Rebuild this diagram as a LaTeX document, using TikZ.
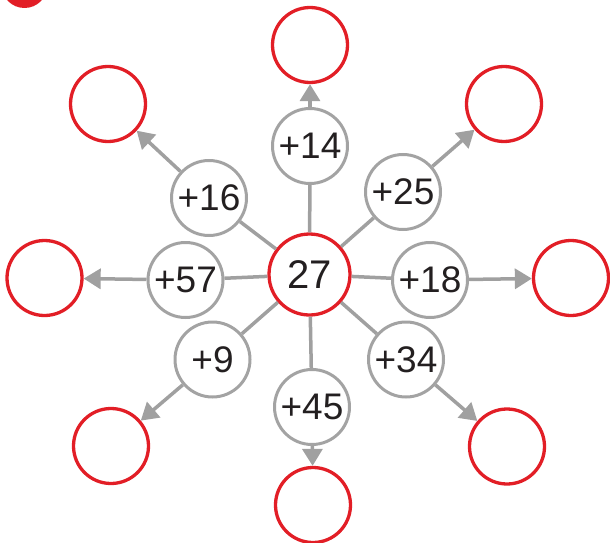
\documentclass[tikz,border=0pt]{standalone}
\usepackage{fontspec}
\setmainfont{Liberation Sans}
\usetikzlibrary{arrows.meta}
\definecolor{ringred}{RGB}{226,30,38}
\definecolor{linegray}{RGB}{160,160,160}
\definecolor{ringgray}{RGB}{163,163,163}
\definecolor{digit}{RGB}{35,31,32}

\begin{document}
\begin{tikzpicture}[x=1pt,y=-1pt,
        start/.style={circle,draw=ringred,line width=3.3pt,minimum size=81pt,
                      inner sep=0pt,text=digit,font=\fontsize{40}{42}\selectfont},
        sum/.style={circle,draw=ringgray,line width=3pt,minimum size=75pt,
                    inner sep=0pt,text=digit,font=\fontsize{37}{39}\selectfont},
        answer/.style={circle,draw=ringred,line width=3.3pt,minimum size=75pt,inner sep=0pt},
        spoke/.style={draw=linegray,line width=3.5pt},
        outarrow/.style={spoke,-{Triangle[length=17pt,width=20pt]}}]
      \useasboundingbox (0,0) rectangle (610,543);
      % badge in the corner
      \fill[ringred] (24.5,-15) circle (23);
      % middle
      \node[start] (c) at (309.5,274.5) {27};
      % steps
      \node[sum] (p14) at (310,146) {+14};
      \node[sum] (p16) at (209,198) {+16};
      \node[sum] (p25) at (403,192) {+25};
      \node[sum] (p57) at (185.5,280) {+57};
      \node[sum] (p18) at (430,280) {+18};
      \node[sum] (p9) at (212.5,359.5) {+9};
      \node[sum] (p34) at (406,359.5) {+34};
      \node[sum] (p45) at (312,407) {+45};
      % empty answers
      \node[answer] (r14) at (310,45) {};
      \node[answer] (r16) at (108,104) {};
      \node[answer] (r25) at (504,104) {};
      \node[answer] (r57) at (44.5,278) {};
      \node[answer] (r18) at (571,278) {};
      \node[answer] (r9) at (111,446) {};
      \node[answer] (r34) at (507,446.5) {};
      \node[answer] (r45) at (313,505) {};
      % spokes and arrows
      \foreach \k in {14,16,25,57,18,9,34,45} {
        \draw[spoke] (c) -- (p\k);
        \draw[outarrow] (p\k) -- (r\k);
      }
    \end{tikzpicture}
\end{document}
